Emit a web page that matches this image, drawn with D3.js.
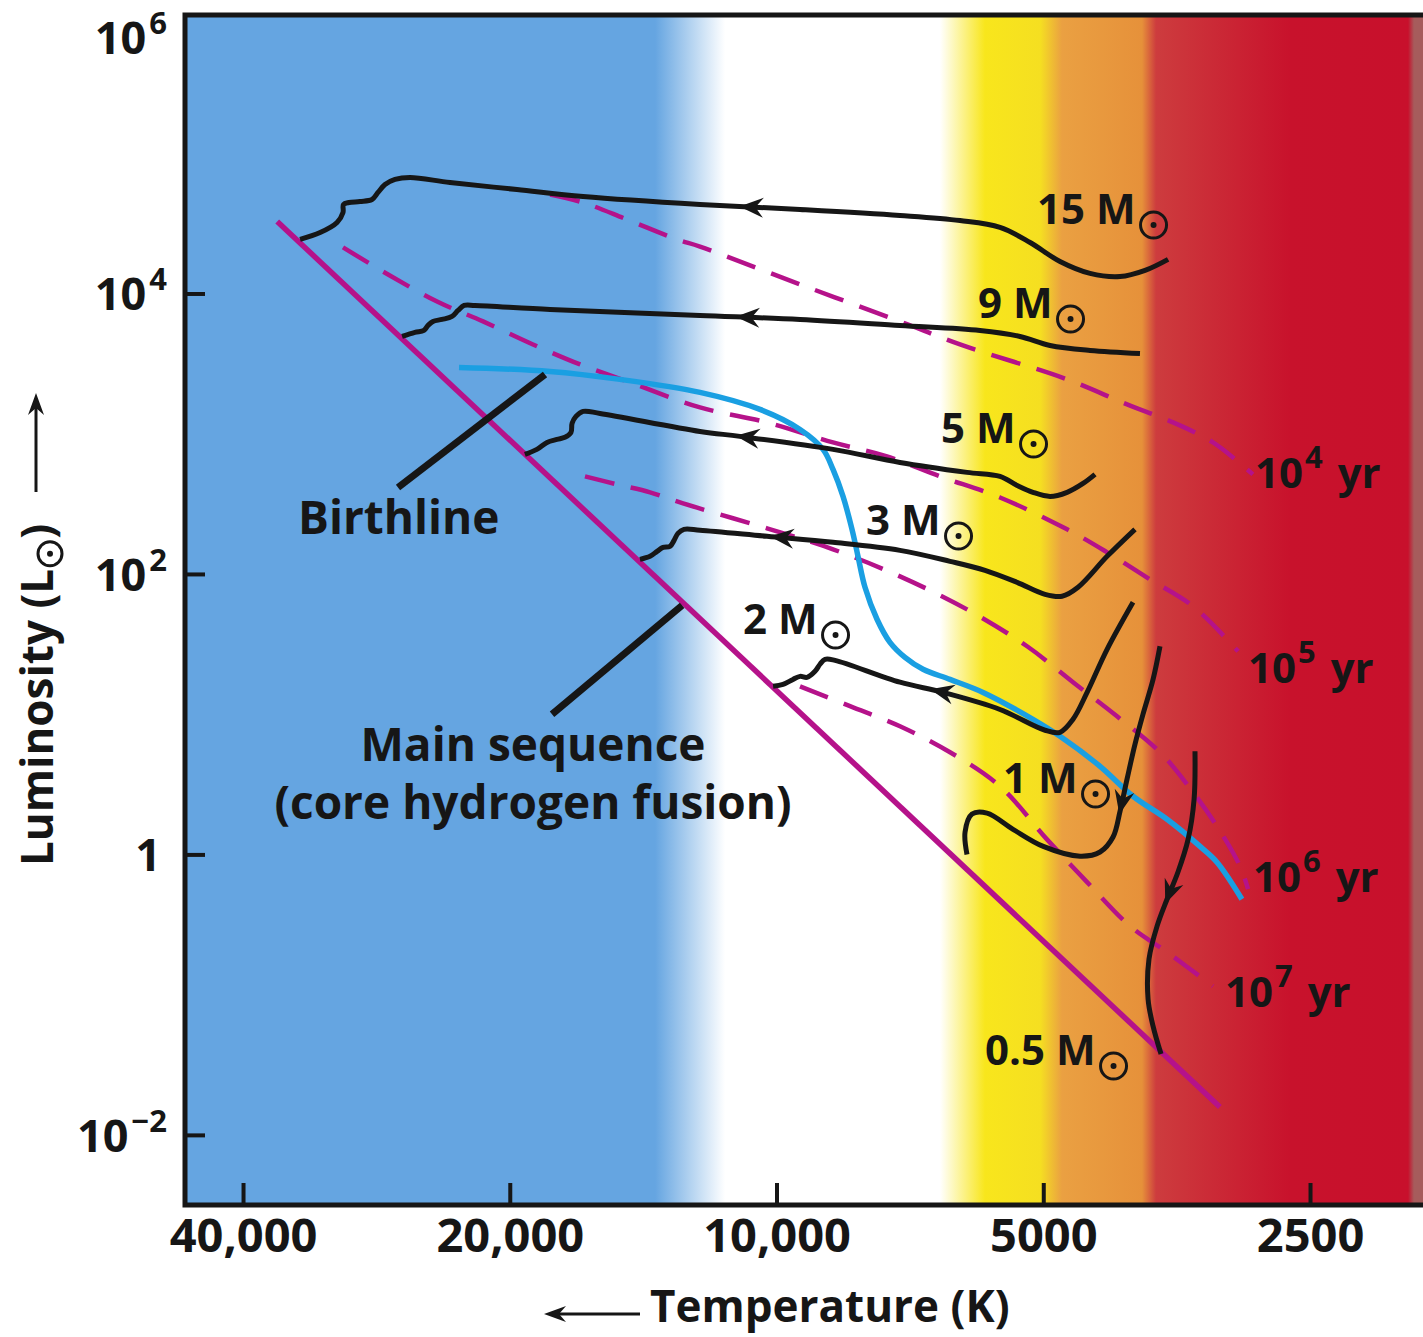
<!DOCTYPE html>
<html>
<head>
<meta charset="utf-8">
<title>Pre-main-sequence evolutionary tracks</title>
<script src="https://cdn.jsdelivr.net/npm/d3@7"></script>
<style>
  body { margin: 0; background: #fff; }
  svg { display: block; }
  text { font-family: "Open Sans", "Noto Sans", sans-serif; font-weight: 700; fill: #161616; }
</style>
</head>
<body>
<svg id="hr" width="1423" height="1337"></svg>
<script>
// axes: temperature in K (reversed), luminosity in solar units
const TEMP_DOMAIN = [46510, 1864];
const LUM_DOMAIN = [Math.pow(10, -2.5), 1e6];
const TEMP_TICKS = [40000, 20000, 10000, 5000, 2500];
const TEMP_TICK_LABELS = ["40,000", "20,000", "10,000", "5000", "2500"];
const LUM_TICKS = [1e4, 1e2, 1, 1e-2];
const LUM_LABEL_VALUES = [1e6, 1e4, 1e2, 1, 1e-2];
const LUM_LABEL_BASES = ["10", "10", "10", "1", "10"];
const LUM_LABEL_EXPONENTS = ["6", "4", "2", "", "\u22122"];

// colour bands behind the plot, by temperature
const BAND_TEMPS = [13710, 11430, 6540, 5818, 5040, 4762, 3869, 3730, 2634, 1938, 1908];
const BAND_COLORS = ["#65a5e1", "#ffffff", "#ffffff", "#f8e61c", "#f5df21", "#eaa042",
                     "#e6913a", "#cd3c3e", "#c8122c", "#c8102c", "#a65c5c"];

const MAIN_SEQUENCE = [[36600, 32600], [3160, 0.0158]];

const BIRTHLINE = [
    [22820, 2970], [18010, 2780], [15020, 2440], [12200, 1970], [10440, 1490],
    [9408, 1073], [8862, 773], [8635, 556], [8413, 357], [8219, 208], [8092, 133.5],
    [7946, 80.3], [7702, 47.5], [7447, 32.5], [7162, 25.4], [6834, 20.9], [6371, 17.7],
    [5847, 14.3], [5136, 9.2], [4787, 6.96], [4314, 4.25], [3960, 2.6], [3625, 1.78],
    [3327, 1.14], [3184, 0.88], [2984, 0.479]
];

const ISOCHRONE_AGES = ["4", "5", "6", "7"];   // 10^n yr
const ISO_1E4 = [
    [18010, 50800], [16530, 44500], [14750, 33700], [12950, 24300], [12200, 21600],
    [9408, 11600], [7256, 6320], [6208, 4330], [4700, 2440], [4022, 1618], [3569, 1204],
    [3217, 867], [2900, 513]
];
const ISO_1E5 = [
    [30850, 21300], [27440, 13660], [24160, 8770], [21440, 6320], [18830, 4330],
    [16660, 3118], [14630, 2321], [12200, 1539], [10250, 1204], [8635, 867], [7505, 689],
    [6539, 496], [5595, 351], [4700, 208], [4236, 142.6], [3789, 91.5], [3388, 58.8],
    [3014, 28.1]
];
const ISO_1E6 = [
    [16450, 496], [15140, 435], [13890, 382], [12750, 318.5], [10250, 211.4], [8635, 149.8],
    [7256, 96.1], [6096, 55.9], [5215, 30.5], [4628, 16.9], [4128, 9.66], [3692, 5.35],
    [3441, 3.16], [3184, 1.59], [2999, 0.824], [2937, 0.565]
];
const ISO_1E7 = [
    [9408, 15.8], [8262, 11.4], [7256, 8.2], [6371, 5.35], [5595, 3.06], [4952, 1.28],
    [4462, 0.634], [3991, 0.308], [3625, 0.201], [3217, 0.115]
];

// evolutionary tracks, each listed in the direction of evolution
const TRACK_MASSES = ["15", "9", "5", "3", "2", "1", "0.5"];
const TRACK_15 = [
    [3615, 17500], [3838, 14600], [4096, 13200], [4428, 13900], [4787, 16900], [5174, 23100],
    [5595, 29600], [6208, 33100], [7256, 36000], [9408, 39700], [12200, 43100], [16530, 49100],
    [19630, 55100], [23360, 61800], [25920, 67100], [26950, 65000], [27660, 59800],
    [28170, 52500], [28610, 46800], [29520, 45300], [30370, 44500], [30810, 43100],
    [30850, 37800], [31330, 32100], [32740, 27200], [34490, 24300]
];
const TRACK_9 = [
    [3889, 3735], [4428, 3925], [4913, 4259], [5312, 4937], [5893, 5450], [7256, 5914],
    [9408, 6527], [12200, 6970], [18010, 7689], [21890, 8212], [22520, 8212], [22880, 7564],
    [23240, 6856], [23850, 6527], [24420, 6318], [24740, 5914], [25000, 5450], [25590, 5274],
    [26460, 4937]
];
const TRACK_5 = [
    [4371, 513], [4509, 442], [4700, 382], [4913, 357], [5136, 382], [5352, 428], [5595, 496],
    [6096, 530], [7256, 624], [8635, 773], [11000, 957], [12200, 1038], [15820, 1395],
    [16530, 1442], [16840, 1328], [17010, 1186], [17060, 1021], [17330, 942], [17690, 911],
    [18155, 867], [18640, 773], [19230, 712]
];
const TRACK_3 = [
    [3940, 208], [4236, 133.5], [4568, 80.3], [4762, 69.3], [4977, 71.5], [5352, 87.1],
    [5817, 106.1], [6371, 123], [7256, 147.3], [8635, 168], [10250, 185.4], [12200, 205],
    [12720, 208], [12920, 194.7], [13050, 173.6], [13190, 157.3], [13430, 154.8],
    [13640, 144.9], [13890, 133.5], [14260, 127.1]
];
const TRACK_2 = [
    [3960, 62.8], [4236, 29], [4462, 14.3], [4628, 9.2], [4787, 7.43], [4977, 7.68],
    [5595, 10.8], [6488, 14.3], [7256, 16.9], [8590, 24.2], [8816, 24.6], [8932, 22.7],
    [9048, 20.2], [9239, 18.3], [9408, 18.6], [9581, 17.7], [9833, 16.3], [10090, 15.8]
];
const TRACK_1 = [
    [3692, 30.5], [3759, 17.7], [3859, 9.98], [3940, 6.1], [4022, 3.44], [4096, 2.03],
    [4171, 1.33], [4314, 1.04], [4544, 0.971], [5000, 1.14], [5409, 1.51], [5787, 1.97],
    [6017, 1.94], [6127, 1.44], [6096, 1.0]
];
const TRACK_05 = [
    [3371, 5.44], [3379, 2.47], [3432, 1.28], [3524, 0.746], [3625, 0.479], [3720, 0.308],
    [3799, 0.179], [3808, 0.0929], [3759, 0.0596], [3682, 0.0377]
];
const TRACK_ARROWS = [
    [11000, 41700], [11140, 6320], [11140, 957], [10170, 185], [6710, 14.6], [4096, 1.94], [3644, 0.442]
];

// leader lines from the labels to the curves
const BIRTHLINE_POINTER = [[26740, 414], [18250, 2647]];
const MAIN_SEQUENCE_POINTER = [[17920, 9.98], [12780, 59.7]];

// layout
const PLOT = { left: 185, right: 1423, top: 13, bottom: 1205 };
const INK = "#161616";
const MAGENTA = "#b5128a";
const BIRTH_BLUE = "#1a9fe2";
const MASS_LABEL_POS = [[1037, 224], [978, 318], [941, 443], [866, 535], [743, 634], [1003, 793], [985, 1065]];
const AGE_LABEL_POS = [[1255, 488], [1248, 683], [1253, 892], [1225, 1007]];
const HEAD = "M0,0L-24,-10L-16,0L-24,10Z";
const AXIS_HEAD = "M0,0L-22,-8L-15,0L-22,8Z";


class HrDiagram {

    constructor(svgId) {
        this.svg = d3.select(svgId);
        this.x = d3.scaleLog().domain(TEMP_DOMAIN).range([PLOT.left, PLOT.right]);
        this.y = d3.scaleLog().domain(LUM_DOMAIN).range([PLOT.bottom, PLOT.top]);
        this.line = d3.line()
            .x((d) => this.x(d[0]))
            .y((d) => this.y(d[1]))
            .curve(d3.curveCatmullRom.alpha(0.5));
    }

    render() {
        this.renderBackground();
        this.plot = this.svg.append("g").attr("clip-path", "url(#plot-clip)");
        this.renderIsochrones();
        this.renderCurve(MAIN_SEQUENCE, MAGENTA, 5.5);
        this.renderCurve(BIRTHLINE, BIRTH_BLUE, 5.5);
        this.renderTracks();
        this.renderPointer(BIRTHLINE_POINTER);
        this.renderPointer(MAIN_SEQUENCE_POINTER);
        this.renderAxes();
        this.renderLabels();
    }

    renderBackground() {
        let defs = this.svg.append("defs");
        defs.append("clipPath").attr("id", "plot-clip")
            .append("rect")
            .attr("x", PLOT.left).attr("y", PLOT.top)
            .attr("width", PLOT.right - PLOT.left).attr("height", PLOT.bottom - PLOT.top);

        let span = PLOT.right - PLOT.left;
        defs.append("linearGradient")
            .attr("id", "bands")
            .attr("gradientUnits", "userSpaceOnUse")
            .attr("x1", PLOT.left).attr("x2", PLOT.right).attr("y1", 0).attr("y2", 0)
            .selectAll("stop")
            .data(BAND_TEMPS)
            .enter().append("stop")
                .attr("offset", (t) => (this.x(t) - PLOT.left) / span)
                .attr("stop-color", (t, i) => BAND_COLORS[i]);

        this.svg.append("rect")
            .attr("x", PLOT.left).attr("y", PLOT.top)
            .attr("width", span).attr("height", PLOT.bottom - PLOT.top)
            .style("fill", "url(#bands)");
    }

    renderCurve(points, color, width, dash) {
        return this.plot.append("path")
            .attr("d", this.line(points))
            .attr("fill", "none")
            .attr("stroke", color)
            .attr("stroke-width", width)
            .attr("stroke-dasharray", dash || null);
    }

    renderIsochrones() {
        [ISO_1E4, ISO_1E5, ISO_1E6, ISO_1E7].forEach((iso) => this.renderCurve(iso, MAGENTA, 4.5, "30 17"));
    }

    // nearest point on a drawn path and the direction of travel there
    pointOnPath(node, px, py) {
        let len = node.getTotalLength(), best = 0, bestD = Infinity;
        for (let s = 0; s <= len; s += 1) {
            let p = node.getPointAtLength(s);
            let d = (p.x - px) * (p.x - px) + (p.y - py) * (p.y - py);
            if (d < bestD) { bestD = d; best = s; }
        }
        let a = node.getPointAtLength(Math.max(0, best - 5)),
            b = node.getPointAtLength(Math.min(len, best + 5)),
            p = node.getPointAtLength(best);
        return { x: p.x, y: p.y, angle: Math.atan2(b.y - a.y, b.x - a.x) * 180 / Math.PI };
    }

    renderTracks() {
        let tracks = [TRACK_15, TRACK_9, TRACK_5, TRACK_3, TRACK_2, TRACK_1, TRACK_05];
        tracks.forEach((pts, i) => {
            let node = this.renderCurve(pts, INK, 5).node();
            let [t, l] = TRACK_ARROWS[i];
            let at = this.pointOnPath(node, this.x(t), this.y(l));
            this.plot.append("path")
                .attr("d", HEAD)
                .attr("fill", INK)
                .attr("transform", "translate(" + at.x + "," + at.y + ") rotate(" + at.angle + ")");
        });
    }

    renderPointer(pts) {
        this.plot.append("line")
            .attr("x1", this.x(pts[0][0])).attr("y1", this.y(pts[0][1]))
            .attr("x2", this.x(pts[1][0])).attr("y2", this.y(pts[1][1]))
            .attr("stroke", INK)
            .attr("stroke-width", 7);
    }

    renderAxes() {
        let xAxis = d3.axisBottom(this.x)
            .tickValues(TEMP_TICKS)
            .tickFormat((d, i) => TEMP_TICK_LABELS[i])
            .tickSizeInner(-22).tickSizeOuter(0).tickPadding(14);
        let gx = this.svg.append("g")
            .attr("transform", "translate(0," + PLOT.bottom + ")")
            .call(xAxis)
            .attr("font-size", 47).attr("font-family", null);
        gx.select(".domain").remove();
        gx.selectAll(".tick line").attr("stroke", INK).attr("stroke-width", 4);

        let yAxis = d3.axisLeft(this.y)
            .tickValues(LUM_TICKS)
            .tickFormat("")
            .tickSizeInner(-20).tickSizeOuter(0);
        let gy = this.svg.append("g")
            .attr("transform", "translate(" + PLOT.left + ",0)")
            .call(yAxis);
        gy.select(".domain").remove();
        gy.selectAll(".tick line").attr("stroke", INK).attr("stroke-width", 4);

        this.svg.append("path")
            .attr("d", "M" + PLOT.right + "," + (PLOT.top + 2) + "H" + PLOT.left + "V" + PLOT.bottom + "H" + PLOT.right)
            .attr("fill", "none")
            .attr("stroke", INK)
            .attr("stroke-width", 5)
            .attr("stroke-linecap", "square");

        LUM_LABEL_VALUES.forEach((v, i) => {
            let yy = Math.max(this.y(v), 37) + 17;
            let t = this.svg.append("text")
                .attr("x", LUM_LABEL_EXPONENTS[i] ? 167 : 161)
                .attr("y", yy)
                .attr("text-anchor", "end")
                .attr("font-size", 45)
                .text(LUM_LABEL_BASES[i]);
            if (LUM_LABEL_EXPONENTS[i]) {
                t.append("tspan").attr("font-size", 31).attr("dy", -20).attr("dx", 3).text(LUM_LABEL_EXPONENTS[i]);
            }
        });
    }

    sun(g, cx, cy, r) {
        g.append("circle").attr("cx", cx).attr("cy", cy).attr("r", r)
            .attr("fill", "none").attr("stroke", INK).attr("stroke-width", 3);
        g.append("circle").attr("cx", cx).attr("cy", cy).attr("r", 3).attr("fill", INK);
    }

    renderLabels() {
        let g = this.svg.append("g").attr("class", "labels");

        TRACK_MASSES.forEach((m, i) => {
            let [lx, ly] = MASS_LABEL_POS[i];
            let t = g.append("text").attr("x", lx).attr("y", ly).attr("font-size", 42).text(m + " M");
            this.sun(g, lx + t.node().getComputedTextLength() + 18, ly + 1, 13);
        });

        ISOCHRONE_AGES.forEach((a, i) => {
            let [lx, ly] = AGE_LABEL_POS[i];
            let t = g.append("text").attr("x", lx).attr("y", ly).attr("font-size", 42).text("10");
            t.append("tspan").attr("font-size", 31).attr("dy", -20).attr("dx", 2).text(a);
            t.append("tspan").attr("dy", 20).attr("dx", 4).text(" yr");
        });

        g.append("text").attr("x", 298).attr("y", 534).attr("font-size", 46).text("Birthline");
        g.append("text").attr("x", 533).attr("y", 761).attr("font-size", 46)
            .attr("text-anchor", "middle").text("Main sequence");
        g.append("text").attr("x", 533).attr("y", 819).attr("font-size", 46)
            .attr("text-anchor", "middle").text("(core hydrogen fusion)");

        // x title with arrow
        g.append("text").attr("x", 650).attr("y", 1322).attr("font-size", 44).text("Temperature (K)");
        g.append("line").attr("x1", 640).attr("y1", 1314).attr("x2", 556).attr("y2", 1314)
            .attr("stroke", INK).attr("stroke-width", 3);
        g.append("path").attr("d", AXIS_HEAD).attr("fill", INK)
            .attr("transform", "translate(544,1314) rotate(180)");

        // y title, rotated, with arrow
        let gy = g.append("g").attr("transform", "translate(53,866) rotate(-90)");
        let t = gy.append("text").attr("x", 0).attr("y", 0).attr("font-size", 44).text("Luminosity (L");
        let w = t.node().getComputedTextLength();
        this.sun(gy, w + 15, -3, 12);
        gy.append("text").attr("x", w + 30).attr("y", 0).attr("font-size", 44).text(")");
        g.append("line").attr("x1", 36).attr("y1", 492).attr("x2", 36).attr("y2", 405)
            .attr("stroke", INK).attr("stroke-width", 3);
        g.append("path").attr("d", AXIS_HEAD).attr("fill", INK)
            .attr("transform", "translate(36,393) rotate(-90)");
    }
}

new HrDiagram("#hr").render();
</script>
</body>
</html>
